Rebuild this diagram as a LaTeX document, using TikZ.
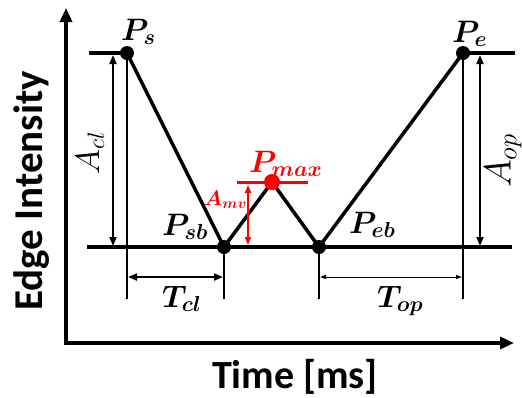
\RequirePackage{fix-cm}
\documentclass[tikz,border=0pt]{standalone}
\usepackage{fontspec}
\usepackage{bm}
\usetikzlibrary{arrows.meta}
\newfontfamily\carl{Carlito}
\begin{document}
\begin{tikzpicture}[x=1pt,y=-1pt,
  axis/.style={line width=3.5pt,{Triangle[length=14pt,width=12pt]}-{Triangle[length=14pt,width=12pt]}},
  mainline/.style={line width=3.5pt,line join=round},
  drop/.style={line width=2.5pt},
  dimarrow/.style={line width=2pt,{Triangle[length=9pt,width=7pt]}-{Triangle[length=9pt,width=7pt]}},
  thindim/.style={line width=1pt,{Triangle[length=6pt,width=4pt]}-{Triangle[length=6pt,width=4pt]}},
  reddim/.style={red,line width=2pt,{Triangle[length=8pt,width=6pt]}-{Triangle[length=8pt,width=6pt]}},
  dot/.style={circle,fill=black,inner sep=0pt,minimum size=14pt},
  reddot/.style={circle,fill=red,inner sep=0pt,minimum size=16pt},
  lab/.style={font=\fontsize{31}{34}\selectfont,inner sep=0pt,anchor=base west},
  axlab/.style={font=\carl\bfseries\fontsize{40}{44}\selectfont,inner sep=0pt,anchor=base}]
\useasboundingbox (0,0) rectangle (522,397);
% axes
\coordinate (ytip) at (66,8);
\coordinate (origin) at (66,343);
\coordinate (xtip) at (514,343);
\draw[axis] (ytip) -- (origin) -- (xtip);
% key points
\coordinate (Ps) at (127,53);
\coordinate (Pe) at (463,53);
\coordinate (Psb) at (224,247);
\coordinate (Peb) at (319,247);
\coordinate (Pmax) at (272,182);
% level lines
\coordinate (tl) at (89,53);
\coordinate (tr) at (515,53);
\coordinate (bl) at (87,247);
\coordinate (br) at (512,247);
\draw[mainline] (tl) -- (Ps);
\draw[mainline] (Pe) -- (tr);
\draw[mainline] (bl) -- (br);
% drops
\coordinate (d1) at (127,299);
\coordinate (d2) at (224,299);
\coordinate (d3) at (319,299);
\coordinate (d4) at (463,299);
\draw[drop] (Ps) -- (d1);
\draw[drop] (Psb) -- (d2);
\draw[drop] (Peb) -- (d3);
\draw[drop] (Pe) -- (d4);
% profile
\draw[mainline] (Ps) -- (Psb) -- (Pmax) -- (Peb) -- (Pe);
% dimension arrows
\coordinate (acl1) at (113,55);
\coordinate (acl2) at (113,246);
\coordinate (aop1) at (480,55);
\coordinate (aop2) at (480,246);
\draw[dimarrow] (acl1) -- (acl2);
\draw[dimarrow] (aop1) -- (aop2);
\coordinate (tcl1) at (128,277);
\coordinate (tcl2) at (223,277);
\coordinate (top1) at (320,277);
\coordinate (top2) at (462,277);
\draw[dimarrow] (tcl1) -- (tcl2);
\draw[thindim] (top1) -- (top2);
% red max
\coordinate (rl) at (237,182);
\coordinate (rr) at (308,182);
\draw[red,line width=3pt] (rl) -- (rr);
\coordinate (amv1) at (248,185);
\coordinate (amv2) at (248,245);
\draw[reddim] (amv1) -- (amv2);
% dots
\node[dot] (nPs) at (Ps) {};
\node[dot] (nPe) at (Pe) {};
\node[dot] (nPsb) at (Psb) {};
\node[dot] (nPeb) at (Peb) {};
\node[reddot] (nPmax) at (Pmax) {};
% labels
\node[lab] (lPs) at (121,40) {$\bm{P_{s}}$};
\node[lab] (lPe) at (452,42) {$\bm{P_{e}}$};
\node[lab] (lPsb) at (162,235) {$\bm{P_{sb}}$};
\node[lab] (lPeb) at (349,233) {$\bm{P_{eb}}$};
\node[lab] (lTcl) at (162,307) {$\bm{T_{cl}}$};
\node[lab] (lTop) at (377,307) {$\bm{T_{op}}$};
\node[lab,red,font=\fontsize{31}{34}\selectfont] (lPmax) at (249,172) {$\bm{P_{max}}$};
\node[lab,red,font=\fontsize{21}{23}\selectfont] (lAmv) at (204,205) {$\bm{A_{mv}}$};
\node[lab,rotate=90,anchor=center,font=\fontsize{34}{38}\selectfont] (lAcl) at (90,153) {$A_{cl}$};
\node[lab,rotate=90,anchor=center,font=\fontsize{38}{42}\selectfont] (lAop) at (503,161) {$A_{op}$};
\node[axlab] (xl) at (295,388) {Time [ms]};
\node[axlab,font=\carl\bfseries\fontsize{41}{46}\selectfont,rotate=90] (yl) at (42,191) {Edge Intensity};
\end{tikzpicture}
\end{document}
